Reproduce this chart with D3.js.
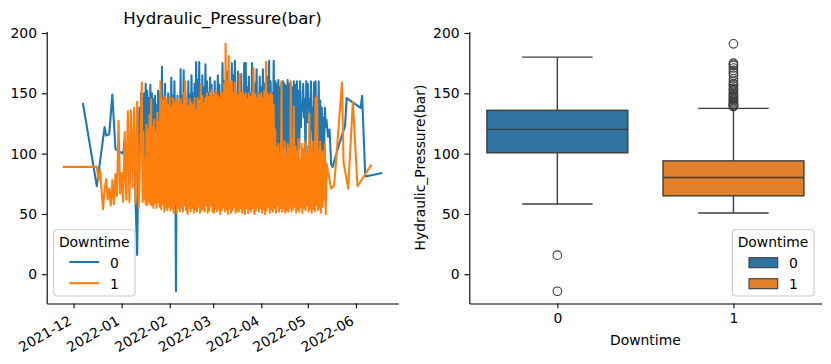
<!DOCTYPE html>
<html><head><meta charset="utf-8">
<script src="https://cdn.jsdelivr.net/npm/d3@7"></script>
<style>body{margin:0;background:#fff} text{font-family:"DejaVu Sans",sans-serif;fill:#000}</style>
</head><body><svg id="c" width="831" height="364"></svg>
<script>
// ---------------- data ----------------
const chartTitle = "Hydraulic_Pressure(bar)";
const hueTitle = "Downtime";
const hueLabels = ["0", "1"];
const lineColors = ["#1f77b4", "#ff7f0e"];
const boxColors = ["#3274a1", "#e1812c"];
const yTickValues = [0, 50, 100, 150, 200];
const xTickDates = ["2021-12-01","2022-01-01","2022-02-01","2022-03-01","2022-04-01","2022-05-01","2022-06-01"];
const xTickFormat = "%Y-%m";

// readings are every 12 hours inside the dense stretch
const denseStepHours = 12;

// Downtime = 0 : sparse readings before / after the dense stretch
const series0Early = [
["2021-12-07",142],["2021-12-16",73],["2021-12-21",122],["2021-12-22",115],["2021-12-24",116],["2021-12-26",149],
["2021-12-28",104],["2021-12-30",102],["2022-01-02",100],["2022-01-03",112],["2022-01-04",88],["2022-01-05",110],
["2022-01-06",76],["2022-01-07",104],["2022-01-08",95],["2022-01-09",118],["2022-01-10",59],["2022-01-11",16]
];
const series0DenseStart = "2022-01-12";
const series0Dense = [
118,138, 100,150, 104,142, 96,150, 84,158, 110,152, 96,146, 101,157, 98,150, 112,145,
104,148, 120,140, 98,152, 131,115, 150,102, 172,104, 146,118, 158,98, 140,112, 150,100,
136,108, 163,96, 148,112, 160,120, -14,118, 148,103, 135,110, 170,91, 148,118, 169,100,
152,122, 140,106, 160,95, 149,107, 165,126, 150,98, 158,114, 176,102, 161,121, 176,99,
150,132, 165,106, 155,111, 174,125, 160,101, 150,138, 163,104, 157,97,
148,120, 160,108, 150,130, 165,104, 157,112, 150,99, 175,125, 160,118, 150,104, 168,112,
160,97, 158,131, 175,107, 165,112, 177,130, 150,101, 168,124, 160,108, 166,99, 150,128,
175,116, 175,99, 155,134, 164,108, 150,99, 175,128, 160,116, 158,134, 170,99, 150,116, 164,128,
155,99, 170,134, 158,116, 150,99, 164,128, 177,102, 160,124, 150,97, 177,112, 160,96,
158,98, 161,102, 155,100, 159,96, 160,99, 158,104, 156,97, 161,100, 158,103, 159,96,
155,110, 160,99, 157,101, 160,98, 152,104, 160,122, 140,136, 158,130, 145,92, 160,126,
158,137, 145,88, 160,120, 138,94, 159,112, 160,98, 144,95, 160,98, 144,96, 138,99,
130,104, 138,122, 128
];
const series0Late = [
["2022-05-14",114],["2022-05-15",120],["2022-05-16",91],["2022-05-17",89],["2022-05-21",107],["2022-05-25",123],
["2022-05-26",146],["2022-06-04",138],["2022-06-05",148],["2022-06-07",81],["2022-06-18",84]
];

// Downtime = 1
const series1Early = [
["2021-11-24",89],["2021-12-16",89],["2021-12-17",78],["2021-12-18",87],["2021-12-20",54],["2021-12-21",70],
["2021-12-22",79],["2021-12-23",62],["2021-12-24",71],["2021-12-25",57],["2021-12-26",78],["2021-12-27",58],
["2021-12-28",83],["2021-12-29",65],["2021-12-30",127],["2021-12-31",67],["2022-01-01",84],["2022-01-02",60],
["2022-01-03",118],["2022-01-04",62],["2022-01-05",135],["2022-01-06",60],["2022-01-07",136],["2022-01-08",72],
["2022-01-09",138],["2022-01-10",59],["2022-01-11",143],["2022-01-12",55],["2022-01-13",105]
];
const series1DenseStart = "2022-01-14";
const series1Dense = [
159,60, 118,62, 95,58, 124,57, 120,60, 132,58, 145,57, 122,55, 128,59, 110,55,
134,60, 126,56, 160,54, 146,58, 144,52, 147,55, 145,53, 140,56,
147,53, 138,55, 146,51, 143,58, 144,51, 146,55, 141,52, 145,55, 140,52, 150,57,
160,53, 146,50, 139,55, 145,52, 142,55, 140,51, 146,54, 136,52, 146,56, 144,51,
157,53, 148,54, 142,52, 146,57, 150,51, 147,53, 150,57, 153,52,
147,51, 149,55, 152,52, 148,54, 146,50, 151,53, 150,56, 158,52, 191,54, 160,50,
181,55, 158,51, 160,53, 150,56, 159,51, 150,53, 148,52, 166,55, 150,51, 152,54,
148,50, 150,55, 145,51, 150,54, 147,52, 150,55, 171,50, 149,53, 146,56, 150,52, 148,55,
150,51, 146,54, 152,50, 176,53, 150,56, 148,51, 150,54, 149,52, 140,55, 120,51,
105,57, 108,52, 100,55, 160,52, 104,55, 110,51, 98,53, 108,52, 104,56, 160,52,
112,54, 139,56, 106,51, 102,54, 112,52, 95,56, 108,51, 104,55, 110,53, 100,57,
106,52, 133,55, 104,51, 110,54, 98,52, 146,57, 147,53, 104,55, 110,51, 102,56,
98,62, 108,50, 92
];
const series1Late = [
["2022-05-16",71],["2022-05-18",74],["2022-05-23",159],["2022-05-24",93],["2022-05-27",71],["2022-05-30",143],
["2022-06-02",73],["2022-06-11",91]
];

// box statistics per Downtime category
const boxCategories = ["0", "1"];
const boxWhiskerLow = [58.3, 50.8];
const boxQ1 = [100.7, 65.0];
const boxMedian = [120.1, 80.2];
const boxQ3 = [135.9, 94.0];
const boxWhiskerHigh = [180.0, 137.5];
const boxOutliers0 = [15.8, -14.1];
const boxOutliers1 = [191, 175, 174, 173, 171, 169, 167, 165, 162, 160, 158, 157, 156, 154, 153, 152, 150, 149, 148, 147, 146, 145, 144, 143, 142, 141, 140.5, 140, 139.5, 139];

// ---------------- drawing ----------------
const svg = d3.select("#c");
const parse = d3.timeParse("%Y-%m-%d");
const FS = 13.9, TFS = 16.6, TICK = 4.86, PAD = 4.86, SPW = 1.11;
const yTop = 31.5, yBottom = 303.5;
const L = {x0: 46.7, x1: 398.3};
const R = {x0: 469.3, x1: 821.5};

function build(early, denseStart, dense, late) {
  const t0 = parse(denseStart);
  return early.map(d => ({date: parse(d[0]), value: d[1]}))
    .concat(dense.map((v, i) => ({date: d3.timeHour.offset(t0, denseStepHours * i), value: v})))
    .concat(late.map(d => ({date: parse(d[0]), value: d[1]})))
    .sort((a, b) => a.date - b.date);
}
const s0 = build(series0Early, series0DenseStart, series0Dense, series0Late);
const s1 = build(series1Early, series1DenseStart, series1Dense, series1Late);
const all = s0.concat(s1);

function padExtent(ext) { const p = (ext[1] - ext[0]) * 0.05; return [ext[0] - p, ext[1] + p]; }
const tExt = d3.extent(all, d => d.date);
const tPad = (tExt[1] - tExt[0]) * 0.05;
const x = d3.scaleTime().domain([new Date(+tExt[0] - tPad), new Date(+tExt[1] + tPad)]).range([L.x0, L.x1]);
const yExt = padExtent(d3.extent(all, d => d.value));
const y = d3.scaleLinear().domain(yExt).range([yBottom, yTop]);

function styleAxis(g) {
  g.select(".domain").attr("stroke-width", SPW).attr("stroke", "#000");
  g.selectAll(".tick line").attr("stroke-width", SPW).attr("stroke", "#000");
  g.selectAll(".tick text").style("font-size", FS + "px").attr("fill", "#000");
}

// left panel lines
const line = d3.line().x(d => x(d.date)).y(d => y(d.value));
[s0, s1].forEach((s, i) => {
  svg.append("path").datum(s).attr("d", line).attr("fill", "none")
    .attr("stroke", lineColors[i]).attr("stroke-width", 2.08).attr("stroke-linejoin", "round");
});

// left axes
svg.append("g").attr("transform", `translate(${L.x0},0)`)
  .call(d3.axisLeft(y).tickValues(yTickValues).tickSize(TICK).tickSizeOuter(0).tickPadding(PAD)).call(styleAxis);
const gLx = svg.append("g").attr("transform", `translate(0,${yBottom})`)
  .call(d3.axisBottom(x).tickValues(xTickDates.map(parse)).tickFormat(d3.timeFormat(xTickFormat))
    .tickSize(TICK).tickSizeOuter(0)).call(styleAxis);
gLx.selectAll(".tick text").attr("y", 0).attr("dy", 0).attr("x", 0)
  .attr("text-anchor", "end").attr("transform", "translate(-1.5,20) rotate(-30)");

svg.append("text").attr("x", (L.x0 + L.x1) / 2).attr("y", 23.8).attr("text-anchor", "middle")
  .style("font-size", TFS + "px").text(chartTitle);

// legends
function legendFrame(x0, y0, w, h) {
  svg.append("rect").attr("x", x0).attr("y", y0).attr("width", w).attr("height", h)
    .attr("rx", 3).attr("fill", "#fff").attr("fill-opacity", 0.8).attr("stroke", "#cccccc").attr("stroke-width", SPW);
}
legendFrame(53.7, 229.7, 81.3, 66.3);
svg.append("text").attr("x", 94.3).attr("y", 247).attr("text-anchor", "middle").style("font-size", FS + "px").text(hueTitle);
hueLabels.forEach((lab, i) => {
  const yy = 262 + i * 21.2;
  svg.append("line").attr("x1", 69.3).attr("x2", 99).attr("y1", yy).attr("y2", yy)
    .attr("stroke", lineColors[i]).attr("stroke-width", 2.08);
  svg.append("text").attr("x", 110).attr("y", yy + 5.6).style("font-size", FS + "px").text(lab);
});

// right panel
const xb = d3.scaleLinear().domain([-0.5, 1.5]).range([R.x0, R.x1]);
const bw = 0.8 * (xb(1) - xb(0));
const gray = "#3d3d3d";
const outs = [boxOutliers0, boxOutliers1];
boxCategories.forEach((c, i) => {
  const cx = xb(i);
  const g = svg.append("g");
  g.append("line").attr("x1", cx).attr("x2", cx).attr("y1", y(boxWhiskerLow[i])).attr("y2", y(boxQ1[i]))
    .attr("stroke", gray).attr("stroke-width", 1.4);
  g.append("line").attr("x1", cx).attr("x2", cx).attr("y1", y(boxQ3[i])).attr("y2", y(boxWhiskerHigh[i]))
    .attr("stroke", gray).attr("stroke-width", 1.4);
  [boxWhiskerLow[i], boxWhiskerHigh[i]].forEach(v => {
    g.append("line").attr("x1", cx - bw / 4).attr("x2", cx + bw / 4).attr("y1", y(v)).attr("y2", y(v))
      .attr("stroke", gray).attr("stroke-width", 1.4);
  });
  g.append("rect").attr("x", cx - bw / 2).attr("width", bw).attr("y", y(boxQ3[i]))
    .attr("height", y(boxQ1[i]) - y(boxQ3[i])).attr("fill", boxColors[i]).attr("stroke", gray).attr("stroke-width", 1.4);
  g.append("line").attr("x1", cx - bw / 2).attr("x2", cx + bw / 2).attr("y1", y(boxMedian[i])).attr("y2", y(boxMedian[i]))
    .attr("stroke", gray).attr("stroke-width", 1.4);
  g.selectAll("circle").data(outs[i]).join("circle").attr("cx", cx).attr("cy", v => y(v)).attr("r", 4.3)
    .attr("fill", "none").attr("stroke", gray).attr("stroke-width", 1.1);
});

svg.append("g").attr("transform", `translate(${R.x0},0)`)
  .call(d3.axisLeft(y).tickValues(yTickValues).tickSize(TICK).tickSizeOuter(0).tickPadding(PAD)).call(styleAxis);
svg.append("g").attr("transform", `translate(0,${yBottom})`)
  .call(d3.axisBottom(xb).tickValues([0, 1]).tickFormat((d, i) => boxCategories[i]).tickSize(TICK).tickSizeOuter(0).tickPadding(PAD))
  .call(styleAxis);

svg.append("text").attr("transform", `translate(425,${(yTop + yBottom) / 2}) rotate(-90)`).attr("text-anchor", "middle")
  .style("font-size", FS + "px").text(chartTitle);
svg.append("text").attr("x", (R.x0 + R.x1) / 2).attr("y", 345).attr("text-anchor", "middle")
  .style("font-size", FS + "px").text(hueTitle);

legendFrame(732.3, 229.7, 81.7, 66.3);
svg.append("text").attr("x", 773).attr("y", 247).attr("text-anchor", "middle").style("font-size", FS + "px").text(hueTitle);
hueLabels.forEach((lab, i) => {
  const yy = 262.7 + i * 21;
  svg.append("rect").attr("x", 749).attr("y", yy - 5).attr("width", 28.7).attr("height", 10)
    .attr("fill", boxColors[i]).attr("stroke", gray).attr("stroke-width", 1.1);
  svg.append("text").attr("x", 789).attr("y", yy + 5.3).style("font-size", FS + "px").text(lab);
});
</script></body></html>
